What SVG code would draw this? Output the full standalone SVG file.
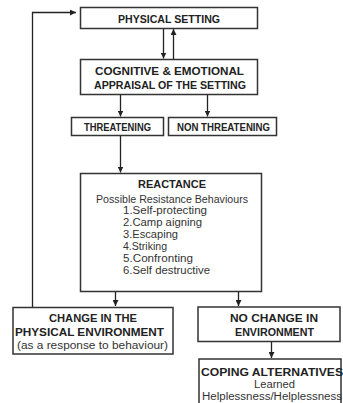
<svg xmlns="http://www.w3.org/2000/svg" width="343" height="403" viewBox="0 0 343 403">
<defs>
<marker id="ah" viewBox="0 0 6 6" refX="6" refY="3" markerWidth="6" markerHeight="6" markerUnits="userSpaceOnUse" orient="auto">
<path d="M0,0 L6,3 L0,6 z" fill="#222"/>
</marker>
</defs>
<style>
.box{fill:#fff;stroke:#333;stroke-width:1.5}
.h{font-family:"Liberation Sans",Arial,sans-serif;font-weight:bold;font-size:11px;fill:#222;text-anchor:middle}
.r{font-family:"Liberation Sans",Arial,sans-serif;font-size:10px;fill:#333;text-anchor:middle}
.l{font-family:"Liberation Sans",Arial,sans-serif;font-size:10px;fill:#333}
.c{fill:none;stroke:#222;stroke-width:1.3}
</style>
<rect width="343" height="403" fill="#fff"/>
<g id="connectors">
<path class="c" d="M163.5,28.5 V58.5" marker-end="url(#ah)"/>
<path class="c" d="M173.5,59.5 V29" marker-end="url(#ah)"/>
<path class="c" d="M120.5,94.5 V116.5" marker-end="url(#ah)"/>
<path class="c" d="M207.5,94.5 V116.5" marker-end="url(#ah)"/>
<path class="c" d="M120.5,135.5 V172.5" marker-end="url(#ah)"/>
<path class="c" d="M115.5,292 V306" marker-end="url(#ah)"/>
<path class="c" d="M238.5,292 V306" marker-end="url(#ah)"/>
<path class="c" d="M271.5,342 V358" marker-end="url(#ah)"/>
<path class="c" d="M32.5,307 V12.5 H76" marker-end="url(#ah)"/>
</g>
<g id="physical-setting">
<rect class="box" x="80.5" y="7.5" width="177" height="21"/>
<text class="h" x="169" y="23" textLength="102" lengthAdjust="spacingAndGlyphs">PHYSICAL SETTING</text>
</g>
<g id="appraisal">
<rect class="box" x="80.5" y="59.5" width="177" height="35"/>
<text class="h" x="169.5" y="75" textLength="149" lengthAdjust="spacingAndGlyphs">COGNITIVE &amp; EMOTIONAL</text>
<text class="h" x="170" y="89" textLength="152" lengthAdjust="spacingAndGlyphs">APPRAISAL OF THE SETTING</text>
</g>
<g id="threatening">
<rect class="box" x="71.5" y="117.5" width="92" height="18"/>
<text class="h" x="117.5" y="131" textLength="67" lengthAdjust="spacingAndGlyphs">THREATENING</text>
</g>
<g id="non-threatening">
<rect class="box" x="168.5" y="117.5" width="108" height="18"/>
<text class="h" x="223.5" y="131" textLength="93" lengthAdjust="spacingAndGlyphs">NON THREATENING</text>
</g>
<g id="reactance">
<rect class="box" x="80.5" y="173.5" width="181" height="118"/>
<text class="h" x="172" y="188" font-size="11.5" textLength="68" lengthAdjust="spacingAndGlyphs">REACTANCE</text>
<text class="r" x="172" y="202.5" textLength="152" lengthAdjust="spacingAndGlyphs">Possible Resistance Behaviours</text>
<text class="l" x="123" y="214" textLength="84" lengthAdjust="spacingAndGlyphs">1.Self-protecting</text>
<text class="l" x="123" y="226" textLength="79" lengthAdjust="spacingAndGlyphs">2.Camp aigning</text>
<text class="l" x="123" y="238" textLength="55" lengthAdjust="spacingAndGlyphs">3.Escaping</text>
<text class="l" x="123" y="250" textLength="44" lengthAdjust="spacingAndGlyphs">4.Striking</text>
<text class="l" x="123" y="261.5" textLength="70" lengthAdjust="spacingAndGlyphs">5.Confronting</text>
<text class="l" x="123" y="273.5" textLength="87" lengthAdjust="spacingAndGlyphs">6.Self destructive</text>
</g>
<g id="change">
<rect class="box" x="13" y="307.5" width="160" height="46.5"/>
<text class="h" x="93" y="322" textLength="88" lengthAdjust="spacingAndGlyphs">CHANGE IN THE</text>
<text class="h" x="89.5" y="336" textLength="149" lengthAdjust="spacingAndGlyphs">PHYSICAL ENVIRONMENT</text>
<text class="r" x="92.5" y="349" textLength="151" lengthAdjust="spacingAndGlyphs">(as a response to behaviour)</text>
</g>
<g id="no-change">
<rect class="box" x="198" y="307" width="142" height="34.5"/>
<text class="h" x="274" y="322" textLength="88" lengthAdjust="spacingAndGlyphs">NO CHANGE IN</text>
<text class="h" x="274.5" y="336" textLength="79" lengthAdjust="spacingAndGlyphs">ENVIRONMENT</text>
</g>
<g id="coping">
<rect class="box" x="199" y="359" width="142" height="50"/>
<text class="h" x="272" y="376" textLength="142" lengthAdjust="spacingAndGlyphs">COPING ALTERNATIVES</text>
<text class="r" x="274.5" y="388" textLength="41" lengthAdjust="spacingAndGlyphs">Learned</text>
<text class="r" x="272" y="400" textLength="140" lengthAdjust="spacingAndGlyphs">Helplessness/Helplessness</text>
</g>
</svg>
